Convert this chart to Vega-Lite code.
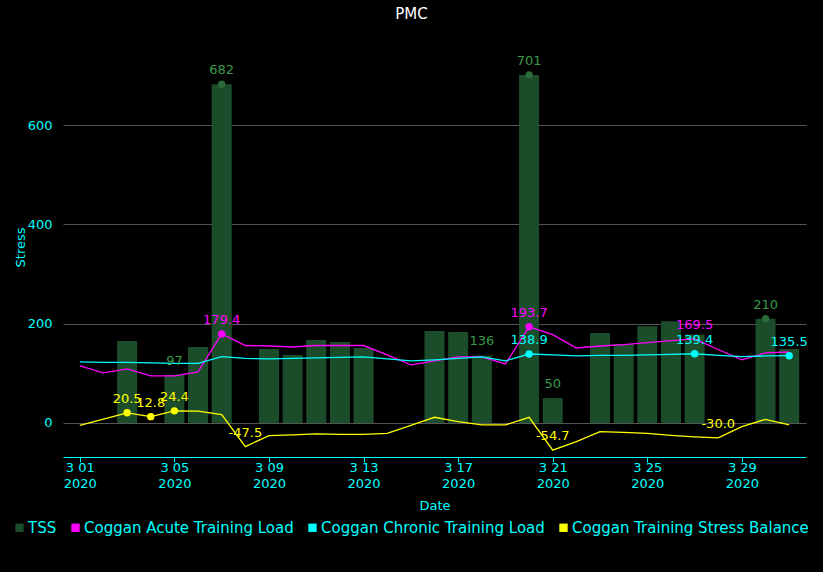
{
  "$schema": "https://vega.github.io/schema/vega-lite/v6.json",
  "width": 743,
  "height": 397,
  "autosize": "none",
  "padding": {"left": 63, "top": 60, "right": 17, "bottom": 115},
  "background": "black",
  "title": {"text": "PMC", "color": "white", "font": "DejaVu Sans", "fontSize": 15, "fontWeight": "normal", "anchor": "middle", "frame": "group", "offset": 33, "dx": -23},
  "config": {
    "view": {"stroke": null},
    "font": "DejaVu Sans"
  },
  "data": {"values": [
    {"date": "2020-03-03", "series": "TSS", "value": 165},
    {"date": "2020-03-05", "series": "TSS", "value": 97, "label": "97"},
    {"date": "2020-03-06", "series": "TSS", "value": 153},
    {"date": "2020-03-07", "series": "TSS", "value": 682, "label": "682", "dot": true},
    {"date": "2020-03-09", "series": "TSS", "value": 149},
    {"date": "2020-03-10", "series": "TSS", "value": 137},
    {"date": "2020-03-11", "series": "TSS", "value": 167},
    {"date": "2020-03-12", "series": "TSS", "value": 163},
    {"date": "2020-03-13", "series": "TSS", "value": 151},
    {"date": "2020-03-16", "series": "TSS", "value": 185},
    {"date": "2020-03-17", "series": "TSS", "value": 183},
    {"date": "2020-03-18", "series": "TSS", "value": 136, "label": "136"},
    {"date": "2020-03-20", "series": "TSS", "value": 701, "label": "701", "dot": true},
    {"date": "2020-03-21", "series": "TSS", "value": 50, "label": "50"},
    {"date": "2020-03-23", "series": "TSS", "value": 181},
    {"date": "2020-03-24", "series": "TSS", "value": 159},
    {"date": "2020-03-25", "series": "TSS", "value": 195},
    {"date": "2020-03-26", "series": "TSS", "value": 205},
    {"date": "2020-03-27", "series": "TSS", "value": 178},
    {"date": "2020-03-30", "series": "TSS", "value": 210, "label": "210", "dot": true},
    {"date": "2020-03-31", "series": "TSS", "value": 149},

    {"date": "2020-03-01", "series": "Coggan Acute Training Load", "value": 115},
    {"date": "2020-03-02", "series": "Coggan Acute Training Load", "value": 101},
    {"date": "2020-03-03", "series": "Coggan Acute Training Load", "value": 109},
    {"date": "2020-03-04", "series": "Coggan Acute Training Load", "value": 95},
    {"date": "2020-03-05", "series": "Coggan Acute Training Load", "value": 95},
    {"date": "2020-03-06", "series": "Coggan Acute Training Load", "value": 103},
    {"date": "2020-03-07", "series": "Coggan Acute Training Load", "value": 179.4, "label": "179.4", "dot": true},
    {"date": "2020-03-08", "series": "Coggan Acute Training Load", "value": 156},
    {"date": "2020-03-09", "series": "Coggan Acute Training Load", "value": 155},
    {"date": "2020-03-10", "series": "Coggan Acute Training Load", "value": 153},
    {"date": "2020-03-11", "series": "Coggan Acute Training Load", "value": 156},
    {"date": "2020-03-12", "series": "Coggan Acute Training Load", "value": 156},
    {"date": "2020-03-13", "series": "Coggan Acute Training Load", "value": 156},
    {"date": "2020-03-14", "series": "Coggan Acute Training Load", "value": 137},
    {"date": "2020-03-15", "series": "Coggan Acute Training Load", "value": 117},
    {"date": "2020-03-16", "series": "Coggan Acute Training Load", "value": 125},
    {"date": "2020-03-17", "series": "Coggan Acute Training Load", "value": 133},
    {"date": "2020-03-18", "series": "Coggan Acute Training Load", "value": 133},
    {"date": "2020-03-19", "series": "Coggan Acute Training Load", "value": 119},
    {"date": "2020-03-20", "series": "Coggan Acute Training Load", "value": 193.7, "label": "193.7", "dot": true},
    {"date": "2020-03-21", "series": "Coggan Acute Training Load", "value": 178},
    {"date": "2020-03-22", "series": "Coggan Acute Training Load", "value": 151},
    {"date": "2020-03-23", "series": "Coggan Acute Training Load", "value": 155},
    {"date": "2020-03-24", "series": "Coggan Acute Training Load", "value": 158},
    {"date": "2020-03-25", "series": "Coggan Acute Training Load", "value": 162},
    {"date": "2020-03-26", "series": "Coggan Acute Training Load", "value": 166},
    {"date": "2020-03-27", "series": "Coggan Acute Training Load", "value": 169.5, "label": "169.5"},
    {"date": "2020-03-28", "series": "Coggan Acute Training Load", "value": 148},
    {"date": "2020-03-29", "series": "Coggan Acute Training Load", "value": 127},
    {"date": "2020-03-30", "series": "Coggan Acute Training Load", "value": 141},
    {"date": "2020-03-31", "series": "Coggan Acute Training Load", "value": 143},

    {"date": "2020-03-01", "series": "Coggan Chronic Training Load", "value": 123},
    {"date": "2020-03-02", "series": "Coggan Chronic Training Load", "value": 122},
    {"date": "2020-03-03", "series": "Coggan Chronic Training Load", "value": 122},
    {"date": "2020-03-04", "series": "Coggan Chronic Training Load", "value": 121},
    {"date": "2020-03-05", "series": "Coggan Chronic Training Load", "value": 120},
    {"date": "2020-03-06", "series": "Coggan Chronic Training Load", "value": 120},
    {"date": "2020-03-07", "series": "Coggan Chronic Training Load", "value": 133.5},
    {"date": "2020-03-08", "series": "Coggan Chronic Training Load", "value": 130},
    {"date": "2020-03-09", "series": "Coggan Chronic Training Load", "value": 129},
    {"date": "2020-03-10", "series": "Coggan Chronic Training Load", "value": 130},
    {"date": "2020-03-11", "series": "Coggan Chronic Training Load", "value": 131},
    {"date": "2020-03-12", "series": "Coggan Chronic Training Load", "value": 132},
    {"date": "2020-03-13", "series": "Coggan Chronic Training Load", "value": 133},
    {"date": "2020-03-14", "series": "Coggan Chronic Training Load", "value": 129},
    {"date": "2020-03-15", "series": "Coggan Chronic Training Load", "value": 125},
    {"date": "2020-03-16", "series": "Coggan Chronic Training Load", "value": 127},
    {"date": "2020-03-17", "series": "Coggan Chronic Training Load", "value": 130},
    {"date": "2020-03-18", "series": "Coggan Chronic Training Load", "value": 133},
    {"date": "2020-03-19", "series": "Coggan Chronic Training Load", "value": 125},
    {"date": "2020-03-20", "series": "Coggan Chronic Training Load", "value": 138.9, "label": "138.9", "dot": true},
    {"date": "2020-03-21", "series": "Coggan Chronic Training Load", "value": 137},
    {"date": "2020-03-22", "series": "Coggan Chronic Training Load", "value": 135},
    {"date": "2020-03-23", "series": "Coggan Chronic Training Load", "value": 136},
    {"date": "2020-03-24", "series": "Coggan Chronic Training Load", "value": 136},
    {"date": "2020-03-25", "series": "Coggan Chronic Training Load", "value": 137},
    {"date": "2020-03-26", "series": "Coggan Chronic Training Load", "value": 138},
    {"date": "2020-03-27", "series": "Coggan Chronic Training Load", "value": 139.4, "label": "139.4", "dot": true},
    {"date": "2020-03-28", "series": "Coggan Chronic Training Load", "value": 136},
    {"date": "2020-03-29", "series": "Coggan Chronic Training Load", "value": 133.5},
    {"date": "2020-03-30", "series": "Coggan Chronic Training Load", "value": 135},
    {"date": "2020-03-31", "series": "Coggan Chronic Training Load", "value": 135.5, "label": "135.5", "dot": true},

    {"date": "2020-03-01", "series": "Coggan Training Stress Balance", "value": -5},
    {"date": "2020-03-02", "series": "Coggan Training Stress Balance", "value": 8},
    {"date": "2020-03-03", "series": "Coggan Training Stress Balance", "value": 20.5, "label": "20.5", "dot": true},
    {"date": "2020-03-04", "series": "Coggan Training Stress Balance", "value": 12.8, "label": "12.8", "dot": true},
    {"date": "2020-03-05", "series": "Coggan Training Stress Balance", "value": 24.4, "label": "24.4", "dot": true},
    {"date": "2020-03-06", "series": "Coggan Training Stress Balance", "value": 24},
    {"date": "2020-03-07", "series": "Coggan Training Stress Balance", "value": 17},
    {"date": "2020-03-08", "series": "Coggan Training Stress Balance", "value": -47.5, "label": "-47.5"},
    {"date": "2020-03-09", "series": "Coggan Training Stress Balance", "value": -25.5},
    {"date": "2020-03-10", "series": "Coggan Training Stress Balance", "value": -24},
    {"date": "2020-03-11", "series": "Coggan Training Stress Balance", "value": -22},
    {"date": "2020-03-12", "series": "Coggan Training Stress Balance", "value": -23},
    {"date": "2020-03-13", "series": "Coggan Training Stress Balance", "value": -23},
    {"date": "2020-03-14", "series": "Coggan Training Stress Balance", "value": -21},
    {"date": "2020-03-15", "series": "Coggan Training Stress Balance", "value": -5},
    {"date": "2020-03-16", "series": "Coggan Training Stress Balance", "value": 11.5},
    {"date": "2020-03-17", "series": "Coggan Training Stress Balance", "value": 2.6},
    {"date": "2020-03-18", "series": "Coggan Training Stress Balance", "value": -4},
    {"date": "2020-03-19", "series": "Coggan Training Stress Balance", "value": -4},
    {"date": "2020-03-20", "series": "Coggan Training Stress Balance", "value": 11.5},
    {"date": "2020-03-21", "series": "Coggan Training Stress Balance", "value": -54.7, "label": "-54.7"},
    {"date": "2020-03-22", "series": "Coggan Training Stress Balance", "value": -37.5},
    {"date": "2020-03-23", "series": "Coggan Training Stress Balance", "value": -17.5},
    {"date": "2020-03-24", "series": "Coggan Training Stress Balance", "value": -19},
    {"date": "2020-03-25", "series": "Coggan Training Stress Balance", "value": -21},
    {"date": "2020-03-26", "series": "Coggan Training Stress Balance", "value": -25},
    {"date": "2020-03-27", "series": "Coggan Training Stress Balance", "value": -28},
    {"date": "2020-03-28", "series": "Coggan Training Stress Balance", "value": -30.0, "label": "-30.0"},
    {"date": "2020-03-29", "series": "Coggan Training Stress Balance", "value": -7.5},
    {"date": "2020-03-30", "series": "Coggan Training Stress Balance", "value": 7.4},
    {"date": "2020-03-31", "series": "Coggan Training Stress Balance", "value": -4}
  ]},
  "encoding": {
    "x": {
      "field": "date", "type": "temporal",
      "scale": {"type": "utc", "domain": [
        {"year": 2020, "month": "feb", "date": 29, "hours": 12, "utc": true},
        {"year": 2020, "month": "mar", "date": 31, "hours": 12, "utc": true}
      ]},
      "axis": {
        "title": "Date", "titleColor": "#00ffff", "titleFont": "DejaVu Sans", "titleFontSize": 13, "titleFontWeight": "normal", "titlePadding": 9,
        "values": [
          {"year": 2020, "month": "mar", "date": 1, "utc": true},
          {"year": 2020, "month": "mar", "date": 5, "utc": true},
          {"year": 2020, "month": "mar", "date": 9, "utc": true},
          {"year": 2020, "month": "mar", "date": 13, "utc": true},
          {"year": 2020, "month": "mar", "date": 17, "utc": true},
          {"year": 2020, "month": "mar", "date": 21, "utc": true},
          {"year": 2020, "month": "mar", "date": 25, "utc": true},
          {"year": 2020, "month": "mar", "date": 29, "utc": true}
        ],
        "labelExpr": "[utcFormat(datum.value, '%-m %d'), utcFormat(datum.value, '%Y')]",
        "labelColor": "#00ffff", "labelFont": "DejaVu Sans", "labelFontSize": 13, "labelLineHeight": 16, "labelPadding": -1,
        "labelBaseline": "top",
        "domainColor": "#00ffff", "domainWidth": 1, "tickColor": "#00ffff", "tickSize": 5,
        "grid": false, "labelFlush": false, "labelOverlap": false
      }
    },
    "y": {
      "field": "value", "type": "quantitative",
      "scale": {"domain": [-68.5, 731], "nice": false, "zero": false},
      "axis": {
        "title": "Stress", "titleColor": "#00ffff", "titleFont": "DejaVu Sans", "titleFontSize": 13, "titleFontWeight": "normal",
        "titleX": -43, "titleY": 187, "titleAngle": 270, "titleAlign": "center", "titleBaseline": "middle",
        "values": [0, 200, 400, 600],
        "labelColor": "#00ffff", "labelFont": "DejaVu Sans", "labelFontSize": 13, "labelPadding": 11,
        "domain": false, "ticks": false, "tickSize": 0,
        "grid": true, "gridColor": "#555555", "gridWidth": 1
      }
    }
  },
  "layer": [
    {
      "transform": [{"filter": "datum.series === 'TSS'"}],
      "mark": {"type": "bar", "size": 20},
      "encoding": {
        "color": {
          "field": "series", "type": "nominal",
          "scale": {
            "domain": ["TSS", "Coggan Acute Training Load", "Coggan Chronic Training Load", "Coggan Training Stress Balance"],
            "range": ["#1b4d2b", "#ff00ff", "#00ffff", "#ffff00"]
          },
          "legend": {
            "title": null, "orient": "none", "legendX": -51, "legendY": 460, "direction": "horizontal",
            "symbolType": "square", "symbolSize": 70, "symbolStrokeWidth": 0, "symbolOpacity": 1,
            "labelColor": "#00ffff", "labelFont": "DejaVu Sans", "labelFontSize": 15, "labelOffset": 1,
            "columnPadding": 11, "padding": 0, "labelLimit": 400,
            "encode": {"symbols": {"update": {"fill": {"scale": "color", "field": "value"}, "stroke": {"value": "transparent"}, "opacity": {"value": 1}}}}
          }
        }
      }
    },
    {
      "transform": [{"filter": "datum.series !== 'TSS'"}],
      "mark": {"type": "line", "strokeWidth": 1.3},
      "encoding": {
        "color": {"field": "series", "type": "nominal"},
        "strokeWidth": {
          "field": "series", "type": "nominal",
          "scale": {"domain": ["Coggan Acute Training Load", "Coggan Chronic Training Load", "Coggan Training Stress Balance"], "range": [1.2, 1.8, 1.3]},
          "legend": null
        }
      }
    },
    {
      "transform": [{"filter": "datum.dot === true && datum.series !== 'TSS'"}],
      "mark": {"type": "circle", "size": 55, "opacity": 1},
      "encoding": {"color": {"field": "series", "type": "nominal"}}
    },
    {
      "transform": [{"filter": "datum.dot === true && datum.series === 'TSS'"}],
      "mark": {"type": "circle", "size": 55, "opacity": 1, "color": "#2a6a38"},
      "encoding": {}
    },
    {
      "transform": [{"filter": "datum.label != null && datum.series !== 'TSS'"}],
      "mark": {"type": "text", "dy": -14, "baseline": "middle", "align": "center", "font": "DejaVu Sans", "fontSize": 13},
      "encoding": {"text": {"field": "label"}, "color": {"field": "series", "type": "nominal"}}
    },
    {
      "transform": [{"filter": "datum.label != null && datum.series === 'TSS'"}],
      "mark": {"type": "text", "dy": -14, "baseline": "middle", "align": "center", "font": "DejaVu Sans", "fontSize": 13, "color": "#3a9a4a"},
      "encoding": {"text": {"field": "label"}}
    }
  ]
}
